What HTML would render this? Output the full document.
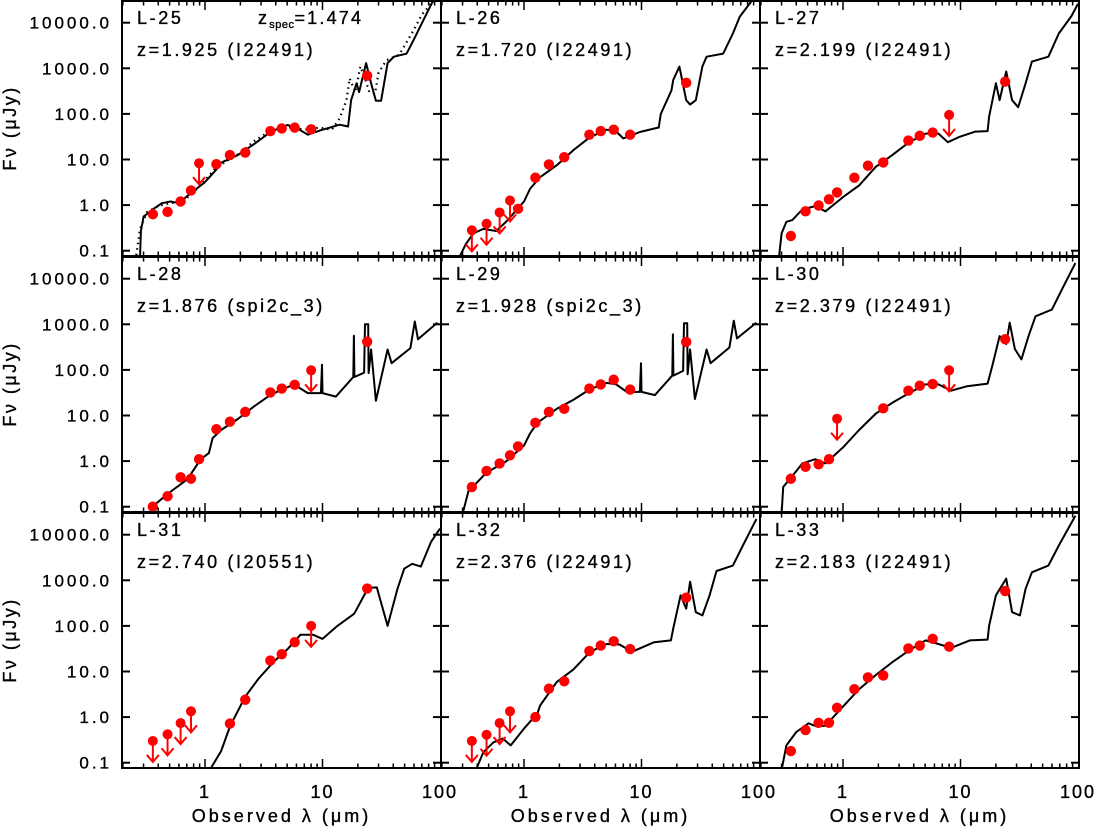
<!DOCTYPE html>
<html><head><meta charset="utf-8">
<style>
html,body{margin:0;padding:0;background:#fff;}
svg{display:block;font-family:"Liberation Sans","DejaVu Sans",sans-serif;}
svg text{stroke:#000;stroke-width:0.35px;}
</style></head>
<body>
<svg id="chart" width="1097" height="827" viewBox="0 0 1097 827" xmlns="http://www.w3.org/2000/svg"></svg>
<script>
// ---- data ----
const panelNames = ["L-25","L-26","L-27","L-28","L-29","L-30","L-31","L-32","L-33"];
const panelRedshifts = ["z=1.925 (I22491)","z=1.720 (I22491)","z=2.199 (I22491)","z=1.876 (spi2c_3)","z=1.928 (spi2c_3)","z=2.379 (I22491)","z=2.740 (I20551)","z=2.376 (I22491)","z=2.183 (I22491)"];
const bandWavelengths = [0.36,0.48,0.62,0.76,0.89,1.25,1.63,2.2,3.6,4.5,5.8,8.0,24];
// fluxes in uJy (null = no point)
const flux_L25 = [0.63,0.71,1.2,2.1,8.3,7.9,12.5,14.2,42,48,50,46,690];
const flux_L26 = [0.28,0.39,0.69,1.26,0.83,4.0,7.8,11.2,35,42,45,35,480];
const flux_L27 = [0.21,0.73,0.98,1.34,1.9,4.0,7.3,8.6,26,33,39,95,510];
const flux_L28 = [0.1,0.17,0.44,0.41,1.1,5.0,7.3,12,32,39,47,98,415];
const flux_L29 = [0.27,0.61,0.89,1.34,2.1,6.9,12,14,39,48,61,37,410];
const flux_L30 = [0.41,0.75,0.85,1.1,8.5,null,null,14.4,35,45,49,98,470];
const flux_L31 = [0.30,0.42,0.74,1.34,null,null,0.72,2.4,17.4,24,44,100,660];
const flux_L32 = [0.30,0.41,0.74,1.34,null,1.0,4.2,6.1,28,37,46,31,415];
const flux_L33 = [0.18,0.52,0.75,0.75,1.6,4.1,7.4,8.2,32,37,52,35,580];
// upper-limit flags (1 = upper limit)
const ul_L25 = [0,0,0,0,1,0,0,0,0,0,0,0,0];
const ul_L26 = [1,1,1,1,0,0,0,0,0,0,0,0,0];
const ul_L27 = [0,0,0,0,0,0,0,0,0,0,0,1,0];
const ul_L28 = [0,0,0,0,0,0,0,0,0,0,0,1,0];
const ul_L29 = [0,0,0,0,0,0,0,0,0,0,0,0,0];
const ul_L30 = [0,0,0,0,1,0,0,0,0,0,0,1,0];
const ul_L31 = [1,1,1,1,0,0,0,0,0,0,0,1,0];
const ul_L32 = [1,1,1,1,0,0,0,0,0,0,0,0,0];
const ul_L33 = [0,0,0,0,0,0,0,0,0,0,0,0,0];
// model SEDs: wavelength (um) and flux (uJy)
const modelLam_L25 = [0.28,0.285,0.3,0.37,0.43,0.51,0.6,0.71,1.0,1.24,1.37,1.9,2.63,3.65,5.05,6.1,7.5,9.7,14,16.5,17.5,19.5,20.5,23.5,25.9,28.5,31.5,35.8,40.5,52,60,78,88];
const modelFlux_L25 = [0.07,0.27,0.56,0.85,1.1,1.2,1.1,1.6,3.2,5.9,8.5,12.5,22,41,57,48,35,44,58,53,200,470,300,1300,470,195,195,1300,1800,2100,4300,17000,31600];
const dottedLam_L25 = [0.26,0.28,0.32,0.4,0.5,0.6,0.75,1.0,1.2,1.5,2,2.7,3.5,5,7,9.5,12,14,16,17,19,21,23,25,28,30,35,45,60,70,90];
const dottedFlux_L25 = [0.08,0.3,0.7,0.95,1.1,1.15,1.6,3.5,6,9,14,27,40,52,45,50,45,80,200,600,300,1100,600,300,280,800,1500,2000,7000,15000,31600];
const modelLam_L26 = [0.28,0.32,0.37,0.45,0.58,0.71,1.0,1.13,1.37,1.9,2.63,3.65,5.05,6.1,7.0,9.7,13.4,14,14.6,18,18.6,21,24,25.9,29,33,35.8,49.6,60,68.7,88];
const modelFlux_L26 = [0.07,0.14,0.24,0.3,0.27,0.44,1.2,2.3,4.1,7.5,16,31,45,41,29,40,49,50,100,330,550,1090,200,160,200,1100,1800,2100,5800,13600,31600];
const modelLam_L27 = [0.285,0.3,0.33,0.37,0.45,0.58,0.71,1.0,1.37,1.9,2.63,3.65,5.05,6.5,7.8,9.7,13.4,17,17.5,20,21.5,24.5,27.5,31,35.8,40.5,56,68.7,88,100];
const modelFlux_L27 = [0.07,0.24,0.43,0.47,0.8,0.95,0.73,1.5,2.7,6.9,12.5,24,37,37,24,31,41,42,87,470,200,850,200,140,470,1400,1800,5800,14000,26000];
const modelLam_L28 = [0.34,0.48,0.71,0.92,1.08,1.16,1.37,1.9,2.63,3.65,5.7,7.5,9.7,9.9,10.0,13,18.3,18.5,18.7,22.6,23,24.5,24.7,25.9,28.5,35.8,38.7,56,61,65,95];
const modelFlux_L28 = [0.09,0.19,0.4,1.1,1.5,3.2,4.8,8.4,16,29,48,31,31,130,31,26,70,560,70,87,1000,1000,85,280,21,280,140,300,1150,470,1090];
const modelLam_L29 = [0.3,0.34,0.37,0.48,0.71,1.0,1.13,1.3,1.9,2.63,3.65,5.05,6.1,7.5,9.7,9.9,10.0,13,18.3,18.5,18.7,22.6,23,24.5,24.7,25.9,28.5,35.8,38.7,56,61,65,95];
const modelFlux_L29 = [0.07,0.24,0.28,0.56,1.0,2.2,4.1,6.9,14,22,38,52,48,33,33,140,33,28,75,600,75,95,1050,1050,80,280,23,280,140,310,1200,490,1090];
const modelLam_L30 = [0.3,0.31,0.4,0.45,0.58,0.71,1.0,1.37,1.9,2.63,3.65,5.05,6.5,8.3,11.4,17,18.6,21.5,24.5,26.2,29,33,38,43.5,60,73,95];
const modelFlux_L30 = [0.07,0.27,0.6,0.89,1.1,0.89,2.0,4.8,11,19,31,48,48,35,44,50,120,550,370,1090,290,170,560,1500,2100,5800,22000];
const modelLam_L31 = [1.1,1.37,1.64,2.2,2.85,3.9,5.05,6.5,8.3,10,13.4,18.6,24.5,29,35.8,43.5,49.6,58,68.7,84,100];
const modelFlux_L31 = [0.07,0.18,0.64,2.8,6.9,17,31,64,64,52,100,185,680,700,100,650,1800,2300,2000,7000,13600];
const modelLam_L32 = [0.39,0.45,0.55,0.66,0.77,1.0,1.3,1.37,1.9,2.63,3.65,5.05,6.5,8.3,12.8,17.8,18.6,21.5,24,25.9,29,33,38,43.5,60,73,95];
const modelFlux_L32 = [0.07,0.17,0.28,0.34,0.24,0.56,1.2,1.8,5.9,11,27,40,39,27,44,48,87,470,240,930,200,170,470,1600,2100,5800,22000];
const modelLam_L33 = [0.3,0.33,0.4,0.51,0.6,0.71,1.0,1.37,1.9,2.63,3.65,5.05,6.5,8.3,12,17,17.5,20,24.5,27.5,32,35.8,40.5,56,68.7,95];
const modelFlux_L33 = [0.07,0.24,0.47,0.73,0.62,0.65,1.7,4.1,8.4,16,29,48,40,33,48,50,100,470,1090,200,170,650,1500,2100,5800,26000];
const yTickValues = [10000,1000,100,10,1,0.1];
const yTickLabels = ["10000.0","1000.0","100.0","10.0","1.0","0.1"];
const xTickValues = [1,10,100];
const xTickLabels = ["1","10","100"];

const fluxes = [flux_L25,flux_L26,flux_L27,flux_L28,flux_L29,flux_L30,flux_L31,flux_L32,flux_L33];
const uls = [ul_L25,ul_L26,ul_L27,ul_L28,ul_L29,ul_L30,ul_L31,ul_L32,ul_L33];
const modelLams = [modelLam_L25,modelLam_L26,modelLam_L27,modelLam_L28,modelLam_L29,modelLam_L30,modelLam_L31,modelLam_L32,modelLam_L33];
const modelFluxes = [modelFlux_L25,modelFlux_L26,modelFlux_L27,modelFlux_L28,modelFlux_L29,modelFlux_L30,modelFlux_L31,modelFlux_L32,modelFlux_L33];

// ---- layout ----
const NS = "http://www.w3.org/2000/svg";
const svg = document.getElementById('chart');
const L0 = 122, PW = 319, PH = 256;
function px(col){return L0 + col*PW;}
function X(col, lam){return px(col) + 83 + 117.5*Math.log10(lam);}
function Y(row, f){return row*PH + 22.7 + 45.6*(4 - Math.log10(f));}
function mk(tag, attrs, parent){const e=document.createElementNS(NS,tag);for(const k in attrs)e.setAttribute(k,attrs[k]);(parent||svg).appendChild(e);return e;}

const defs = mk('defs',{});
for(let i=0;i<9;i++){
  const col=i%3,row=Math.floor(i/3);
  const cp=mk('clipPath',{id:'clip'+i},defs);
  mk('rect',{x:px(col),y:row*PH,width:PW,height:PH},cp);
}

for(let i=0;i<9;i++){
  const col=i%3,row=Math.floor(i/3);
  const g=mk('g',{});
  
  
  const cg=mk('g',{'clip-path':'url(#clip'+i+')'},g);
  if(i===0){
    const d=dottedLam_L25.map((l,k)=>(k?'L':'M')+X(col,l).toFixed(1)+' '+Y(row,dottedFlux_L25[k]).toFixed(1)).join(' ');
    const p=mk('path',{d:d,fill:'none',stroke:'#000','stroke-width':2.2,'stroke-dasharray':'1.5 4'},cg);
    
    
  }
  const lams=modelLams[i],fl=modelFluxes[i];
  const d=lams.map((l,k)=>(k?'L':'M')+X(col,l).toFixed(1)+' '+Y(row,fl[k]).toFixed(1)).join(' ');
  const p=mk('path',{d:d,fill:'none',stroke:'#000','stroke-width':2,'stroke-linejoin':'round'},cg);
  
  
  const f=fluxes[i],u=uls[i];
  for(let k=0;k<bandWavelengths.length;k++){
    if(f[k]==null)continue;
    const x=X(col,bandWavelengths[k]),y=Y(row,f[k]);
    if(u[k]){
      const a=mk('g',{},cg);
      
      
      mk('line',{x1:x,y1:y,x2:x,y2:y+21,stroke:'#f00','stroke-width':2},a);
      mk('path',{d:`M${x-6} ${y+14} L${x} ${y+21} L${x+6} ${y+14}`,fill:'none',stroke:'#f00','stroke-width':2},a);
      mk('circle',{cx:x,cy:y,r:5,fill:'#f00'},a);
    } else {
      const c=mk('circle',{cx:x,cy:y,r:5.2,fill:'#f00'},cg);
      
      
    }
  }
  mk('rect',{x:px(col),y:row*PH+1,width:PW,height:PH-1,fill:'none',stroke:'#000','stroke-width':2},g);
  yTickValues.forEach((v,k)=>{
    const y=Y(row,v);
    mk('line',{x1:px(col),y1:y,x2:px(col)+8,y2:y,stroke:'#000','stroke-width':2},g);
    mk('line',{x1:px(col)+PW,y1:y,x2:px(col)+PW-8,y2:y,stroke:'#000','stroke-width':2},g);
    if(col===0){
      const t=mk('text',{x:112,y:y+6,'text-anchor':'end','font-size':17,'letter-spacing':3},g);
      t.textContent=yTickLabels[k];
      
      
    }
  });
  for(let dec=-1;dec<=1;dec++){
    for(let m=1;m<=9;m++){
      const lam=m*Math.pow(10,dec);
      if(lam<0.2||lam>100)continue;
      const x=X(col,lam),len=(m===1)?9:4.5;
      mk('line',{x1:x,y1:(row+1)*PH,x2:x,y2:(row+1)*PH-len,stroke:'#000','stroke-width':1.5},g);
      mk('line',{x1:x,y1:row*PH+1,x2:x,y2:row*PH+1+len,stroke:'#000','stroke-width':1.5},g);
    }
  }
  const t1=mk('text',{x:px(col)+15,y:row*PH+24,'font-size':18,'letter-spacing':2.6},g);
  t1.textContent=panelNames[i];
  
  
  const t2=mk('text',{x:px(col)+15,y:row*PH+56,'font-size':18,'letter-spacing':2.6},g);
  t2.textContent=panelRedshifts[i];
  
  
  if(i===0){
    const t3=mk('text',{x:258,y:24,'font-size':18,'letter-spacing':2.2},g);
    t3.innerHTML='z<tspan font-size="11" dy="4" letter-spacing="0.5">spec</tspan><tspan dy="-4">=1.474</tspan>';
    
    
  }
  if(row===2){
    xTickValues.forEach((v,k)=>{
      const t=mk('text',{x:X(col,v),y:798,'text-anchor':'middle','font-size':18,'letter-spacing':2},g);
      t.textContent=xTickLabels[k];
      
      
    });
  }
}
for(let col=0;col<3;col++){
  const t=mk('text',{x:px(col)+PW/2,y:822,'text-anchor':'middle','font-size':18,'letter-spacing':3});
  t.textContent='Observed λ (μm)';
  
  
}
for(let row=0;row<3;row++){
  const cy=row*PH+128;
  const t=mk('text',{x:0,y:0,'text-anchor':'middle','font-size':18,'letter-spacing':2.5,transform:`translate(16 ${cy}) rotate(-90)`});
  t.textContent='Fν (μJy)';
  
  
}
</script>
</body></html>
